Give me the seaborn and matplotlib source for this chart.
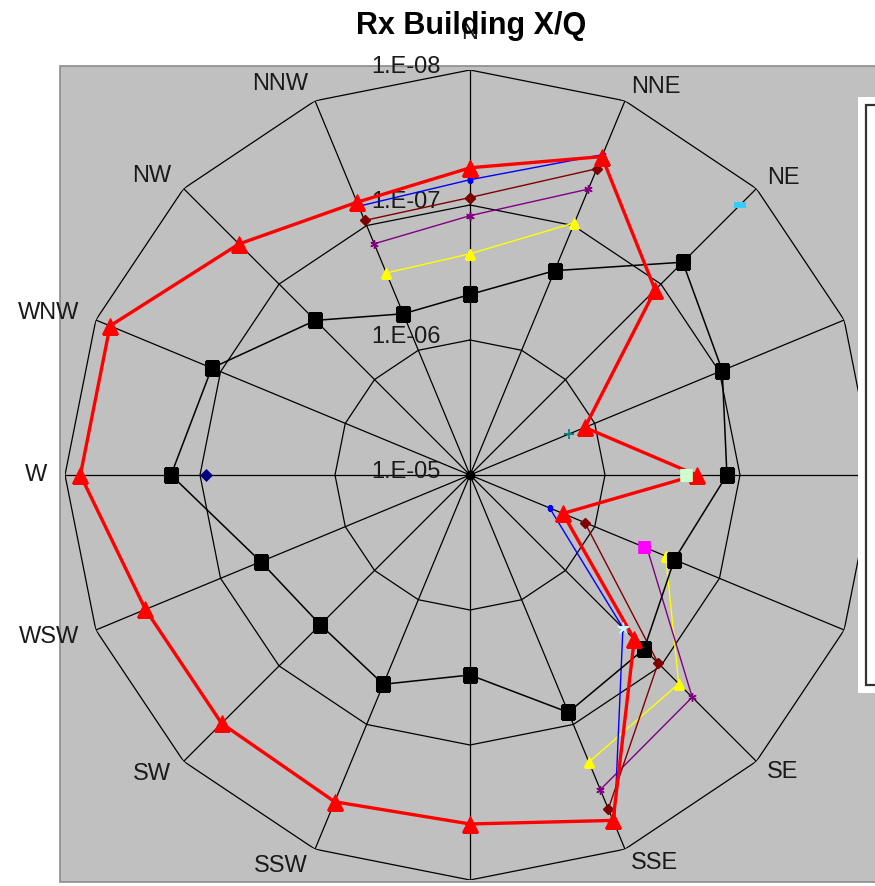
import numpy as np
import matplotlib
matplotlib.use("Agg")
import matplotlib.pyplot as plt
import seaborn as sns
from matplotlib.patches import Rectangle

nan = np.nan
cats = ['N', 'NNE', 'NE', 'ENE', 'E', 'ESE', 'SE', 'SSE',
        'S', 'SSW', 'SW', 'WSW', 'W', 'WNW', 'NW', 'NNW']
levels = [1e-5, 1e-6, 1e-7, 1e-8]
level_labels = ['1.E-05', '1.E-06', '1.E-07', '1.E-08']

red = [5.3e-8, 2.8e-8, 1.15e-7, 1.2e-6, 2.1e-7, 1.8e-6, 1.9e-7, 1.7e-8,
       2.6e-8, 2.4e-8, 2.5e-8, 2.5e-8, 1.3e-8, 1.3e-8, 3.8e-8, 6.5e-8]
black = [4.6e-7, 2.3e-7, 5.9e-8, 9.5e-8, 1.25e-7, 2.3e-7, 1.5e-7, 1.25e-7,
         3.3e-7, 2.1e-7, 2.7e-7, 2.1e-7, 6.1e-8, 8.5e-8, 2.4e-7, 5.1e-7]
blue = [6.5e-8, 2.7e-8, nan, nan, nan, 2.3e-6, 2.5e-7, 1.6e-8,
        nan, nan, nan, nan, nan, nan, nan, 7.0e-8]
maroon = [8.8e-8, 3.5e-8, nan, nan, nan, 1.2e-6, 1.07e-7, 2.1e-8,
          nan, nan, nan, nan, nan, nan, nan, 9.1e-8]
purple = [1.2e-7, 5.1e-8, nan, nan, nan, 3.8e-7, 4.7e-8, 3.0e-8,
          nan, nan, nan, nan, nan, nan, nan, 1.4e-7]
yellow = [2.3e-7, 9.5e-8, nan, nan, nan, 2.7e-7, 6.5e-8, 5.0e-8,
          nan, nan, nan, nan, nan, nan, nan, 2.4e-7]
# single-point series: (category, value)
teal_pt = ('ENE', 1.6e-6)
cyan_pt = ('NE', 1.5e-8)
green_pt = ('E', 2.5e-7)
magenta_pt = ('ESE', 4.0e-7)
navy_pt = ('W', 1.1e-7)
lightcyan_pt = ('SE', 2.5e-7)

sns.set_style("white")
plt.rcParams['font.family'] = ['Liberation Sans', 'DejaVu Sans']

W, H = 875, 886
fig = plt.figure(figsize=(W / 100, H / 100), dpi=100)
fig.patch.set_facecolor('white')

# grey plot area
fig.add_artist(Rectangle((60 / W, 4 / H), 1.0, 816 / H, transform=fig.transFigure,
                         facecolor='#C0C0C0', edgecolor='#8C8C8C', lw=1.2, zorder=-5))

ax = fig.add_axes([65 / W, 6 / H, 810 / W, 810 / H], projection='polar')
ax.set_facecolor('none')
ax.set_theta_zero_location('N')
ax.set_theta_direction(-1)
ax.set_rscale('log')
ax.set_rlim(1e-5, 1e-8)
ax.grid(False)
ax.spines['polar'].set_visible(False)
ax.set_xticks([])
ax.set_yticks([])

theta = np.deg2rad(np.arange(len(cats)) * 22.5)
th_c = np.append(theta, theta[0] + 2 * np.pi)


def closed(v):
    return np.append(np.asarray(v, dtype=float), v[0])


# polygon grid
for lv in levels[1:]:
    ax.plot(th_c, [lv] * len(th_c), color='black', lw=0.9, zorder=1)
for t in theta:
    ax.plot([t, t], [levels[0], levels[-1]], color='black', lw=0.9, zorder=1)
ax.plot([0], [levels[0]], 'o', color='black', ms=6, zorder=2)

# series
ax.plot(th_c, closed(yellow), color='#FFFF00', lw=1.0, marker='^', ms=7,
        mec='#FFFF00', zorder=3)
ax.plot(th_c, closed(purple), color='#800080', lw=1.0, marker=(6, 2, 0), ms=6,
        mec='#800080', mew=1.0, zorder=3)
ax.plot(th_c, closed(maroon), color='#800000', lw=1.0, marker='D', ms=5,
        mec='#800000', zorder=3)
ax.plot(th_c, closed(blue), color='#0000FF', lw=1.0, marker='s', ms=3.5,
        mec='#0000FF', zorder=3)
sns.lineplot(x=th_c, y=closed(black), sort=False, estimator=None, ax=ax,
             color='black', lw=1.1, marker='s', markersize=10.5,
             markeredgecolor='black', zorder=4)
sns.lineplot(x=th_c, y=closed(red), sort=False, estimator=None, ax=ax,
             color='#FF0000', lw=2.4, marker='^', markersize=12,
             markeredgecolor='#FF0000', zorder=5)

idx = {c: i for i, c in enumerate(cats)}
single = [(teal_pt, '#008080', '+', 7, 1.2),
          (cyan_pt, '#33CCFF', '_', 8, 3.0),
          (green_pt, '#CCFFCC', 's', 8, 0.5),
          (magenta_pt, '#FF00FF', 's', 8, 0.5),
          (navy_pt, '#000080', 'D', 6, 0.5),
          (lightcyan_pt, '#CCFFFF', '*', 9, 0.5)]
for (c, v), col, mk, ms, mew in single:
    ax.plot([theta[idx[c]]], [v], linestyle='none', marker=mk, ms=ms,
            color=col, mec=col, mew=mew, zorder=6)

ax.set_rlim(1e-5, 1e-8)
ax.set_xlabel('')
ax.set_ylabel('')

# category labels (those falling behind the legend / outside the picture
# are hidden in the original as well)
px = 0.72  # points per pixel
for t, c in zip(theta, cats):
    s, co = np.sin(t), np.cos(t)
    if abs(s) < 0.05:
        d, ha = 37, 'center'
    else:
        d = 15 if s > 0 else 18
        ha = 'left' if s > 0 else 'right'
    x_disp, y_disp = ax.transData.transform((t, levels[-1]))
    x_lab, y_lab = x_disp + d * s, y_disp + d * co
    if x_lab > 845 or y_lab < 0:
        continue
    ax.annotate(c, xy=(t, levels[-1]), xytext=(d * s * px, d * co * px),
                textcoords='offset points', ha=ha, va='center',
                fontsize=17, color='#1a1a1a', annotation_clip=False, zorder=2)

# radial labels
for lv, lab in zip(levels, level_labels):
    ax.annotate(lab, xy=(0, lv), xytext=(-29 * px, 3 * px),
                textcoords='offset points', ha='right', va='center',
                fontsize=17, color='#1a1a1a', annotation_clip=False, zorder=2)

# (cut-off) legend box on the right
fig.add_artist(Rectangle((858 / W, (H - 693) / H), 0.1, 596 / H,
                         transform=fig.transFigure, facecolor='white',
                         edgecolor='none', zorder=10))
fig.add_artist(Rectangle((866 / W, (H - 685) / H), 0.1, 580 / H,
                         transform=fig.transFigure, facecolor='white',
                         edgecolor='#333333', lw=1.6, zorder=11))

fig.text(471 / W, 1 - 34 / H, 'Rx Building X/Q', ha='center', va='baseline',
         fontsize=22, fontweight='bold', color='black', zorder=20)

fig.savefig('out.png', dpi=100)
